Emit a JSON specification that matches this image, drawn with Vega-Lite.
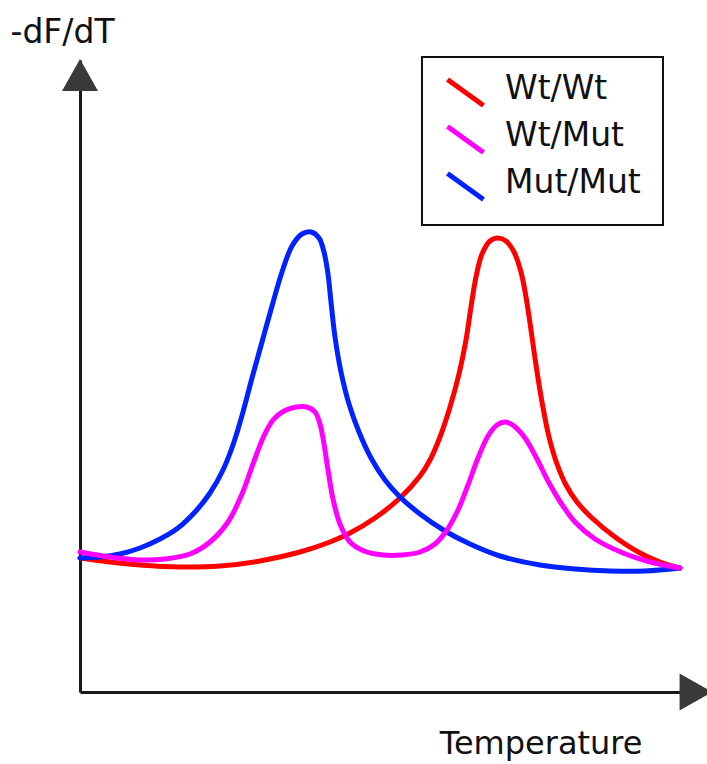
{
  "$schema": "https://vega.github.io/schema/vega-lite/v6.json",
  "width": 627,
  "height": 632,
  "autosize": {"type": "none"},
  "padding": {"left": 80, "top": 60, "right": 0, "bottom": 72},
  "background": "white",
  "config": {
    "view": {"stroke": null},
    "font": "DejaVu Sans",
    "legend": {
      "orient": "none",
      "legendX": 342,
      "legendY": -3,
      "padding": 15,
      "strokeColor": "#111",
      "strokeWidth": 2,
      "fillColor": "white",
      "symbolType": "M-2.25,-1.125L2.25,2.125",
      "symbolSize": 256,
      "symbolStrokeWidth": 5,
      "symbolOffset": 12,
      "labelFont": "DejaVu Sans",
      "labelFontSize": 33,
      "labelColor": "#111",
      "labelOffset": 23,
      "labelLimit": 400,
      "rowPadding": 0
    }
  },
  "datasets": {
    "curves": [
      {"genotype": "Wt/Wt", "temperature": 0, "dFdT": 134},
      {"genotype": "Wt/Wt", "temperature": 30, "dFdT": 130},
      {"genotype": "Wt/Wt", "temperature": 60, "dFdT": 127},
      {"genotype": "Wt/Wt", "temperature": 100, "dFdT": 125},
      {"genotype": "Wt/Wt", "temperature": 140, "dFdT": 126},
      {"genotype": "Wt/Wt", "temperature": 180, "dFdT": 131},
      {"genotype": "Wt/Wt", "temperature": 220, "dFdT": 140},
      {"genotype": "Wt/Wt", "temperature": 250, "dFdT": 150},
      {"genotype": "Wt/Wt", "temperature": 270, "dFdT": 159},
      {"genotype": "Wt/Wt", "temperature": 295, "dFdT": 174},
      {"genotype": "Wt/Wt", "temperature": 320, "dFdT": 194},
      {"genotype": "Wt/Wt", "temperature": 340, "dFdT": 216},
      {"genotype": "Wt/Wt", "temperature": 350, "dFdT": 232},
      {"genotype": "Wt/Wt", "temperature": 360, "dFdT": 255},
      {"genotype": "Wt/Wt", "temperature": 370, "dFdT": 285},
      {"genotype": "Wt/Wt", "temperature": 379, "dFdT": 318},
      {"genotype": "Wt/Wt", "temperature": 386, "dFdT": 352},
      {"genotype": "Wt/Wt", "temperature": 391, "dFdT": 385},
      {"genotype": "Wt/Wt", "temperature": 396, "dFdT": 415},
      {"genotype": "Wt/Wt", "temperature": 402, "dFdT": 438},
      {"genotype": "Wt/Wt", "temperature": 410, "dFdT": 451},
      {"genotype": "Wt/Wt", "temperature": 418, "dFdT": 454},
      {"genotype": "Wt/Wt", "temperature": 426, "dFdT": 451},
      {"genotype": "Wt/Wt", "temperature": 434, "dFdT": 440},
      {"genotype": "Wt/Wt", "temperature": 441, "dFdT": 420},
      {"genotype": "Wt/Wt", "temperature": 446, "dFdT": 395},
      {"genotype": "Wt/Wt", "temperature": 451, "dFdT": 362},
      {"genotype": "Wt/Wt", "temperature": 456, "dFdT": 327},
      {"genotype": "Wt/Wt", "temperature": 462, "dFdT": 290},
      {"genotype": "Wt/Wt", "temperature": 469, "dFdT": 255},
      {"genotype": "Wt/Wt", "temperature": 477, "dFdT": 228},
      {"genotype": "Wt/Wt", "temperature": 486, "dFdT": 207},
      {"genotype": "Wt/Wt", "temperature": 497, "dFdT": 190},
      {"genotype": "Wt/Wt", "temperature": 512, "dFdT": 174},
      {"genotype": "Wt/Wt", "temperature": 535, "dFdT": 155},
      {"genotype": "Wt/Wt", "temperature": 560, "dFdT": 139},
      {"genotype": "Wt/Wt", "temperature": 580, "dFdT": 130},
      {"genotype": "Wt/Wt", "temperature": 600, "dFdT": 124},

      {"genotype": "Mut/Mut", "temperature": 0, "dFdT": 134},
      {"genotype": "Mut/Mut", "temperature": 20, "dFdT": 135},
      {"genotype": "Mut/Mut", "temperature": 40, "dFdT": 138},
      {"genotype": "Mut/Mut", "temperature": 60, "dFdT": 144},
      {"genotype": "Mut/Mut", "temperature": 80, "dFdT": 153},
      {"genotype": "Mut/Mut", "temperature": 98, "dFdT": 164},
      {"genotype": "Mut/Mut", "temperature": 115, "dFdT": 180},
      {"genotype": "Mut/Mut", "temperature": 130, "dFdT": 199},
      {"genotype": "Mut/Mut", "temperature": 143, "dFdT": 222},
      {"genotype": "Mut/Mut", "temperature": 154, "dFdT": 250},
      {"genotype": "Mut/Mut", "temperature": 163, "dFdT": 280},
      {"genotype": "Mut/Mut", "temperature": 172, "dFdT": 314},
      {"genotype": "Mut/Mut", "temperature": 182, "dFdT": 350},
      {"genotype": "Mut/Mut", "temperature": 192, "dFdT": 386},
      {"genotype": "Mut/Mut", "temperature": 202, "dFdT": 420},
      {"genotype": "Mut/Mut", "temperature": 212, "dFdT": 446},
      {"genotype": "Mut/Mut", "temperature": 222, "dFdT": 458},
      {"genotype": "Mut/Mut", "temperature": 231, "dFdT": 460},
      {"genotype": "Mut/Mut", "temperature": 239, "dFdT": 454},
      {"genotype": "Mut/Mut", "temperature": 244, "dFdT": 440},
      {"genotype": "Mut/Mut", "temperature": 248, "dFdT": 418},
      {"genotype": "Mut/Mut", "temperature": 251, "dFdT": 390},
      {"genotype": "Mut/Mut", "temperature": 255, "dFdT": 355},
      {"genotype": "Mut/Mut", "temperature": 261, "dFdT": 320},
      {"genotype": "Mut/Mut", "temperature": 269, "dFdT": 288},
      {"genotype": "Mut/Mut", "temperature": 279, "dFdT": 260},
      {"genotype": "Mut/Mut", "temperature": 291, "dFdT": 234},
      {"genotype": "Mut/Mut", "temperature": 305, "dFdT": 212},
      {"genotype": "Mut/Mut", "temperature": 320, "dFdT": 195},
      {"genotype": "Mut/Mut", "temperature": 340, "dFdT": 178},
      {"genotype": "Mut/Mut", "temperature": 365, "dFdT": 161},
      {"genotype": "Mut/Mut", "temperature": 390, "dFdT": 148},
      {"genotype": "Mut/Mut", "temperature": 420, "dFdT": 136},
      {"genotype": "Mut/Mut", "temperature": 460, "dFdT": 127},
      {"genotype": "Mut/Mut", "temperature": 495, "dFdT": 123},
      {"genotype": "Mut/Mut", "temperature": 530, "dFdT": 121},
      {"genotype": "Mut/Mut", "temperature": 565, "dFdT": 121},
      {"genotype": "Mut/Mut", "temperature": 600, "dFdT": 124},

      {"genotype": "Wt/Mut", "temperature": 0, "dFdT": 140},
      {"genotype": "Wt/Mut", "temperature": 30, "dFdT": 135},
      {"genotype": "Wt/Mut", "temperature": 60, "dFdT": 132},
      {"genotype": "Wt/Mut", "temperature": 85, "dFdT": 133},
      {"genotype": "Wt/Mut", "temperature": 110, "dFdT": 138},
      {"genotype": "Wt/Mut", "temperature": 130, "dFdT": 150},
      {"genotype": "Wt/Mut", "temperature": 148, "dFdT": 170},
      {"genotype": "Wt/Mut", "temperature": 162, "dFdT": 198},
      {"genotype": "Wt/Mut", "temperature": 173, "dFdT": 228},
      {"genotype": "Wt/Mut", "temperature": 183, "dFdT": 254},
      {"genotype": "Wt/Mut", "temperature": 193, "dFdT": 272},
      {"genotype": "Wt/Mut", "temperature": 204, "dFdT": 281},
      {"genotype": "Wt/Mut", "temperature": 216, "dFdT": 285},
      {"genotype": "Wt/Mut", "temperature": 227, "dFdT": 285},
      {"genotype": "Wt/Mut", "temperature": 235, "dFdT": 280},
      {"genotype": "Wt/Mut", "temperature": 240, "dFdT": 268},
      {"genotype": "Wt/Mut", "temperature": 244, "dFdT": 248},
      {"genotype": "Wt/Mut", "temperature": 248, "dFdT": 222},
      {"genotype": "Wt/Mut", "temperature": 253, "dFdT": 193},
      {"genotype": "Wt/Mut", "temperature": 260, "dFdT": 168},
      {"genotype": "Wt/Mut", "temperature": 270, "dFdT": 150},
      {"genotype": "Wt/Mut", "temperature": 284, "dFdT": 141},
      {"genotype": "Wt/Mut", "temperature": 303, "dFdT": 137},
      {"genotype": "Wt/Mut", "temperature": 322, "dFdT": 137},
      {"genotype": "Wt/Mut", "temperature": 340, "dFdT": 140},
      {"genotype": "Wt/Mut", "temperature": 355, "dFdT": 148},
      {"genotype": "Wt/Mut", "temperature": 367, "dFdT": 162},
      {"genotype": "Wt/Mut", "temperature": 378, "dFdT": 182},
      {"genotype": "Wt/Mut", "temperature": 388, "dFdT": 207},
      {"genotype": "Wt/Mut", "temperature": 398, "dFdT": 234},
      {"genotype": "Wt/Mut", "temperature": 408, "dFdT": 256},
      {"genotype": "Wt/Mut", "temperature": 417, "dFdT": 267},
      {"genotype": "Wt/Mut", "temperature": 425, "dFdT": 270},
      {"genotype": "Wt/Mut", "temperature": 434, "dFdT": 266},
      {"genotype": "Wt/Mut", "temperature": 445, "dFdT": 254},
      {"genotype": "Wt/Mut", "temperature": 457, "dFdT": 233},
      {"genotype": "Wt/Mut", "temperature": 468, "dFdT": 211},
      {"genotype": "Wt/Mut", "temperature": 481, "dFdT": 189},
      {"genotype": "Wt/Mut", "temperature": 495, "dFdT": 170},
      {"genotype": "Wt/Mut", "temperature": 515, "dFdT": 153},
      {"genotype": "Wt/Mut", "temperature": 543, "dFdT": 139},
      {"genotype": "Wt/Mut", "temperature": 570, "dFdT": 130},
      {"genotype": "Wt/Mut", "temperature": 600, "dFdT": 124}
    ],
    "arrowUp": [{"temperature": 0, "dFdT": 617}],
    "arrowRight": [{"temperature": 616, "dFdT": 0}]
  },
  "encoding": {
    "x": {
      "field": "temperature",
      "type": "quantitative",
      "scale": {"domain": [0, 627], "nice": false, "zero": false},
      "axis": {
        "title": "Temperature",
        "domain": true,
        "domainColor": "#1a1a1a",
        "domainWidth": 3,
        "ticks": false,
        "labels": false,
        "grid": false,
        "titleFont": "DejaVu Sans",
        "titleFontSize": 32,
        "titleFontWeight": "normal",
        "titleColor": "#111",
        "titleAlign": "right",
        "titleBaseline": "alphabetic",
        "titleX": 562,
        "titleY": 61
      }
    },
    "y": {
      "field": "dFdT",
      "type": "quantitative",
      "scale": {"domain": [0, 632], "nice": false, "zero": false},
      "axis": {
        "title": "-dF/dT",
        "domain": true,
        "domainColor": "#1a1a1a",
        "domainWidth": 3,
        "ticks": false,
        "labels": false,
        "grid": false,
        "titleFont": "DejaVu Sans",
        "titleFontSize": 33,
        "titleFontWeight": "normal",
        "titleColor": "#111",
        "titleAngle": 0,
        "titleAlign": "left",
        "titleBaseline": "alphabetic",
        "titleX": -70,
        "titleY": -18
      }
    }
  },
  "layer": [
    {
      "data": {"name": "curves"},
      "transform": [{"filter": "datum.genotype === 'Wt/Wt'"}],
      "mark": {"type": "line", "strokeWidth": 5, "interpolate": "catmull-rom", "strokeCap": "round"},
      "encoding": {
        "color": {
          "field": "genotype",
          "type": "nominal",
          "scale": {"domain": ["Wt/Wt", "Wt/Mut", "Mut/Mut"], "range": ["#ff0000", "#ff00ff", "#0022ff"]},
          "legend": {"title": " ", "titleOrient": "right", "titleFontSize": 1, "titlePadding": 7}
        }
      }
    },
    {
      "data": {"name": "curves"},
      "transform": [{"filter": "datum.genotype === 'Mut/Mut'"}],
      "mark": {"type": "line", "strokeWidth": 5, "interpolate": "catmull-rom", "strokeCap": "round"},
      "encoding": {
        "color": {"field": "genotype", "type": "nominal"}
      }
    },
    {
      "data": {"name": "curves"},
      "transform": [{"filter": "datum.genotype === 'Wt/Mut'"}],
      "mark": {"type": "line", "strokeWidth": 5, "interpolate": "catmull-rom", "strokeCap": "round"},
      "encoding": {
        "color": {"field": "genotype", "type": "nominal"}
      }
    },
    {
      "data": {"name": "arrowUp"},
      "mark": {"type": "point", "shape": "M-1,0.889L0,-0.889L1,0.889Z", "size": 1296, "filled": true, "fill": "#3a3a3a", "strokeWidth": 0, "opacity": 1}
    },
    {
      "data": {"name": "arrowRight"},
      "mark": {"type": "point", "shape": "M-0.889,-1L0.889,0L-0.889,1Z", "size": 1369, "filled": true, "fill": "#3a3a3a", "strokeWidth": 0, "opacity": 1}
    }
  ]
}
